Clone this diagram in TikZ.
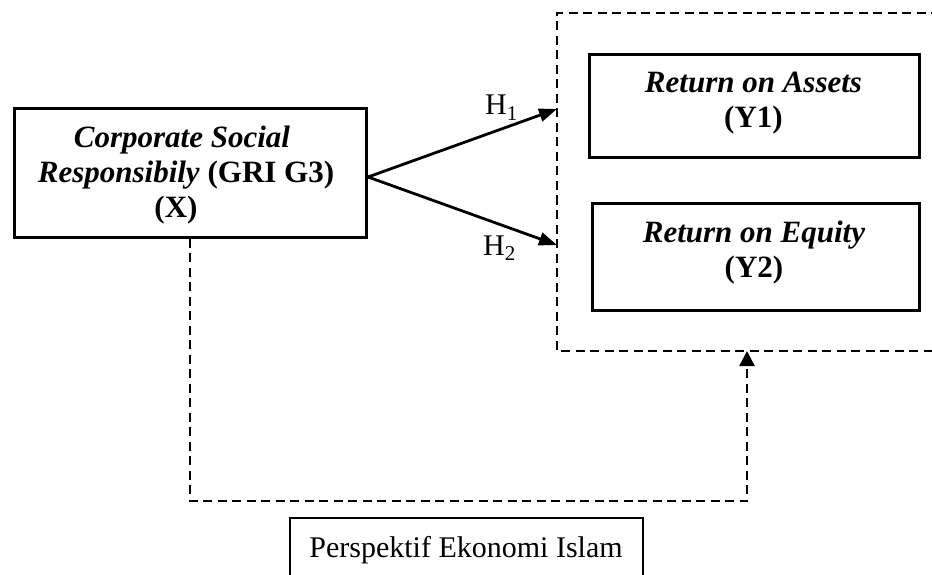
\documentclass[tikz,border=0pt]{standalone}
\usepackage{fontspec}
\setmainfont{Liberation Serif}
\usetikzlibrary{arrows.meta,calc}
\begin{document}
\begin{tikzpicture}[x=1pt,y=-1pt,
  box/.style={draw, line width=3pt, inner sep=0pt},
  boxtext/.style={align=center, inner sep=0pt, font=\fontsize{31}{35}\selectfont\bfseries},
  lbl/.style={inner sep=0pt, font=\fontsize{30}{34}\selectfont},
  dashline/.style={line width=2.5pt, dash pattern=on 9pt off 5.5pt},
  arr/.style={line width=2.8pt, -{Triangle[length=18pt,width=13pt]}},
  uparr/.style={line width=2.5pt, dash pattern=on 9pt off 5.5pt, -{Triangle[length=15pt,width=15pt]}}]
\useasboundingbox (0,0) rectangle (932,575);
% left box
\node[box, minimum width=352pt, minimum height=128pt] (x) at (190,173) {};
\node[boxtext, anchor=base] (xt) at (186,217)
  {\textit{Corporate Social}\hspace*{8pt}\\ \textit{Responsibily} (GRI G3)\\ (X)\hspace*{20pt}};
% right boxes
\node[box, minimum width=330pt, minimum height=103pt] (y1) at (754,106.5) {};
\node[boxtext, anchor=base] (y1t) at (753.5,128) {\textit{Return on Assets}\\ (Y1)};
\node[box, minimum width=327pt, minimum height=107pt] (y2) at (755.5,256.5) {};
\node[boxtext, anchor=base] (y2t) at (754,277) {\textit{Return on Equity}\\ (Y2)};
% dashed group
\coordinate (gtr) at (940,13);
\coordinate (gtl) at (557,13);
\coordinate (gbl) at (557,351);
\coordinate (gbr) at (940,351);
\draw[dashline] (gtr) -- (gtl) -- (gbl) -- (gbr);
% hypotheses arrows
\coordinate (xs) at (368,177);
\coordinate (h1e) at (557,109);
\coordinate (h2e) at (557,245);
\draw[arr] (xs) -- (h1e);
\draw[arr] (xs) -- (h2e);
\node[lbl, anchor=base west] (h1) at (485,115) {H\textsubscript{1}};
\node[lbl, anchor=base west] (h2) at (483,255) {H\textsubscript{2}};
% dashed connector to group
\coordinate (ge) at (747,351);
\coordinate (pb) at (747,501);
\draw[uparr] (x.south) -- (x.south |- pb) -- (pb) -- (ge);
% bottom box
\node[draw, line width=2.2pt, minimum width=353pt, minimum height=80pt, anchor=north, inner sep=0pt] (p) at (466.5,517) {};
\node[lbl, anchor=base] (pt) at (466,557) {Perspektif Ekonomi Islam};
\end{tikzpicture}
\end{document}
